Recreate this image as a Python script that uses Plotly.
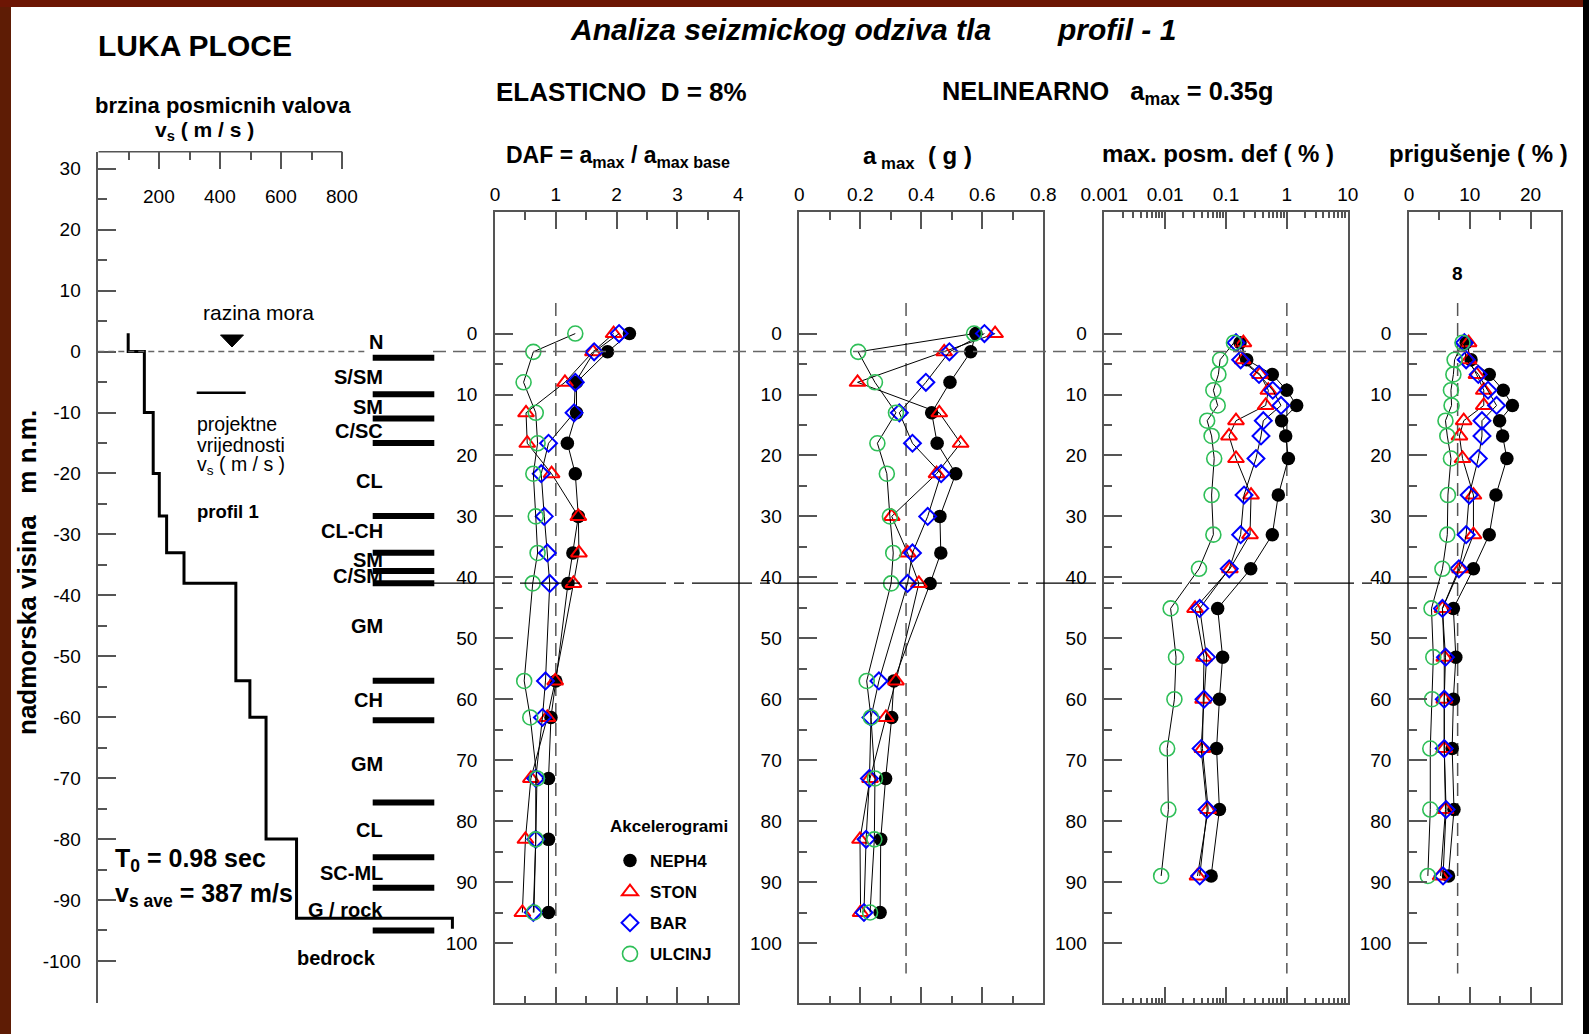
import plotly.graph_objects as go

W, H = 1589, 1034
FONT = "Liberation Sans, Arial, Helvetica, sans-serif"
AXC = "#555555"


def fx(p):
    return p / W


def fy(p):
    return 1 - p / H


# ---------------- shear wave velocity profile (elevation, m n.m.) ----------------
vs_boundary_elev = [3, 0, -10, -20, -27, -33, -38, -54, -60, -80, -93]
vs_layer = [98, 151, 180, 200, 224, 281, 451, 497, 550, 650]
vs_bedrock = 1161
bedrock_mark_bottom = -94.7
vs_axis_ticks = [200, 400, 600, 800]
elev_ticks = list(range(-100, 31, 10))

layer_bar_elev = [-1, -7, -11, -15, -27, -33, -36, -38, -54, -60.5, -74, -83, -88, -95]
soil_names = ["N", "S/SM", "SM", "C/SC", "CL", "CL-CH", "SM", "C/SM", "GM", "CH", "GM",
              "CL", "SC-ML", "G / rock"]
soil_label_elev = [1.5, -4.1, -9.1, -13.1, -21.3, -29.5, -34.2, -36.9, -45.1, -57.2,
                   -67.6, -78.5, -85.5, -91.6]
sea_level = 0
base_elev = -38

T0 = 0.98
vs_ave = 387
damping_elastic = 8
a_max_base = 0.35

# ---------------- response results (depth below top, m) ----------------
depth_acc = [0, 3, 8, 13, 18, 23, 30, 36, 41, 57, 63, 73, 83, 95]
depth_mid = [1.5, 4.3, 6.7, 9.3, 11.8, 14.3, 16.8, 20.5, 26.5, 33.0, 38.6, 45.1, 53.1,
             60.0, 68.1, 78.1, 89.0]

daf_neph4 = [2.21, 1.85, 1.34, 1.34, 1.19, 1.32, 1.37, 1.28, 1.20, 1.00, 0.92, 0.88, 0.88, 0.88]
daf_ston = [1.95, 1.61, 1.15, 0.51, 0.53, 0.93, 1.37, 1.38, 1.29, 0.99, 0.86, 0.59, 0.50, 0.45]
daf_bar = [2.04, 1.63, 1.32, 1.30, 0.88, 0.76, 0.81, 0.86, 0.90, 0.83, 0.78, 0.67, 0.67, 0.63]
daf_ulcinj = [1.32, 0.63, 0.47, 0.67, 0.70, 0.63, 0.67, 0.70, 0.62, 0.48, 0.58, 0.69, 0.67, 0.64]

amax_neph4 = [0.579, 0.562, 0.494, 0.434, 0.452, 0.513, 0.461, 0.464, 0.429, 0.310, 0.303,
              0.283, 0.267, 0.265]
amax_ston = [0.642, 0.475, 0.191, 0.459, 0.529, 0.450, 0.303, 0.355, 0.392, 0.317, 0.284,
             0.232, 0.199, 0.201]
amax_bar = [0.607, 0.492, 0.415, 0.328, 0.371, 0.465, 0.421, 0.371, 0.355, 0.261, 0.235,
            0.230, 0.219, 0.212]
amax_ulcinj = [0.573, 0.193, 0.248, 0.317, 0.256, 0.287, 0.297, 0.308, 0.301, 0.221, 0.235,
               0.248, 0.246, 0.232]

strain_neph4 = [0.170, 0.219, 0.577, 0.993, 1.45, 0.82, 0.957, 1.06, 0.724, 0.577, 0.255,
                0.073, 0.088, 0.078, 0.070, 0.078, 0.057]
strain_ston = [0.193, 0.188, 0.362, 0.496, 0.449, 0.146, 0.112, 0.146, 0.258, 0.248, 0.116,
               0.031, 0.0435, 0.042, 0.041, 0.051, 0.034]
strain_bar = [0.146, 0.174, 0.349, 0.586, 0.802, 0.410, 0.376, 0.311, 0.198, 0.174, 0.113,
              0.037, 0.048, 0.0435, 0.039, 0.049, 0.037]
strain_ulcinj = [0.135, 0.080, 0.075, 0.062, 0.073, 0.049, 0.058, 0.064, 0.058, 0.062, 0.036,
                 0.0123, 0.0151, 0.0142, 0.0108, 0.0113, 0.0086]

damp_neph4 = [9.4, 10.2, 13.2, 15.5, 17.0, 14.9, 15.4, 16.1, 14.3, 13.2, 10.6, 7.3, 7.7, 7.3,
              7.1, 7.4, 6.5]
damp_ston = [9.8, 9.8, 11.1, 12.3, 12.3, 9.0, 8.3, 8.8, 10.6, 10.6, 8.4, 5.5, 5.8, 5.8, 5.8,
             6.0, 5.2]
damp_bar = [9.1, 9.4, 11.4, 13.0, 14.4, 12.0, 12.0, 11.4, 9.9, 9.4, 8.2, 5.5, 6.0, 5.8, 5.8,
            6.1, 5.6]
damp_ulcinj = [8.8, 7.5, 7.3, 6.9, 7.0, 6.0, 6.3, 6.9, 6.4, 6.3, 5.5, 3.7, 4.0, 3.8, 3.5, 3.5,
               3.1]

records = ["NEPH4", "STON", "BAR", "ULCINJ"]
marker_style = {
    "NEPH4": dict(symbol="circle", size=13.5, color="black", line=dict(width=0)),
    "STON": dict(symbol="triangle-up-open", size=14, color="#ff0000", line=dict(width=2)),
    "BAR": dict(symbol="diamond-open", size=13, color="#0000ff", line=dict(width=2)),
    "ULCINJ": dict(symbol="circle-open", size=15, color="#2fbf58", line=dict(width=1.6)),
}

panels = [
    ("x2", "y2", depth_acc, [daf_neph4, daf_ston, daf_bar, daf_ulcinj], 1),
    ("x3", "y3", depth_acc, [amax_neph4, amax_ston, amax_bar, amax_ulcinj], a_max_base),
    ("x4", "y4", depth_mid, [strain_neph4, strain_ston, strain_bar, strain_ulcinj], 1),
    ("x5", "y5", depth_mid, [damp_neph4, damp_ston, damp_bar, damp_ulcinj], damping_elastic),
]

fig = go.Figure()

# step line of the velocity profile
vs_x, vs_y = [], []
for i, v in enumerate(vs_layer):
    vs_x += [v, v]
    vs_y += [vs_boundary_elev[i], vs_boundary_elev[i + 1]]
vs_x += [vs_bedrock, vs_bedrock]
vs_y += [vs_boundary_elev[-1], bedrock_mark_bottom]
fig.add_trace(go.Scatter(x=vs_x, y=vs_y, mode="lines", line=dict(color="black", width=3),
                         xaxis="x", yaxis="y", showlegend=False, hoverinfo="skip"))

for xa, ya, depth, series, ref in panels:
    fig.add_trace(go.Scatter(x=[ref, ref], y=[-5, 105], mode="lines",
                             line=dict(color="#555555", width=1.5, dash="13px,7px"),
                             xaxis=xa, yaxis=ya, showlegend=False, hoverinfo="skip"))
    for name, vals in zip(records, series):
        fig.add_trace(go.Scatter(x=vals, y=depth, mode="lines+markers",
                                 line=dict(color="black", width=1),
                                 marker=marker_style[name], xaxis=xa, yaxis=ya,
                                 showlegend=False, name=name))

for name in records:
    fig.add_trace(go.Scatter(x=[None], y=[None], mode="markers", marker=marker_style[name],
                             name="<b>%s</b>" % name, legendgroup=name, xaxis="x2",
                             yaxis="y2", showlegend=True))

tickfont = dict(family=FONT, size=19, color="black")


def panel_x(left, right, rng, tickvals, ticktext, minor, mtype="linear", minorlen=8):
    return dict(domain=[fx(left), fx(right)], range=rng, type=mtype, side="top",
                showline=True, linecolor=AXC, linewidth=1.5, mirror="ticks",
                ticks="inside", ticklen=17, tickwidth=1.5, tickcolor=AXC,
                tickmode="array", tickvals=tickvals, ticktext=ticktext,
                minor=dict(tickmode="array", tickvals=minor, ticks="inside",
                           ticklen=minorlen, tickwidth=1.5, tickcolor=AXC, showgrid=False),
                showgrid=False, zeroline=False, tickfont=tickfont, ticklabelstandoff=2,
                automargin=False)


def panel_y(anchor):
    return dict(domain=[fy(1003.3), fy(212.3)], range=[109.9, -19.9], anchor=anchor,
                showline=True, linecolor=AXC, linewidth=1.5, mirror=True,
                ticks="inside", ticklen=18, tickwidth=1.5, tickcolor=AXC,
                tickmode="array", tickvals=list(range(0, 101, 10)),
                minor=dict(tickmode="array", tickvals=list(range(5, 100, 10)), ticks="inside",
                           ticklen=8, tickwidth=1.5, tickcolor=AXC, showgrid=False),
                showgrid=False, zeroline=False, tickfont=tickfont, ticklabelstandoff=12,
                automargin=False)


strain_minor = [m * 10 ** e for e in range(-3, 1) for m in range(2, 10)]

x_right = 470
vs_scale = 0.305
layout = dict(
    template="none",
    width=W, height=H, margin=dict(l=0, r=0, t=0, b=0, pad=0), autosize=False,
    paper_bgcolor="white", plot_bgcolor="rgba(0,0,0,0)",
    font=dict(family=FONT, color="black"),
    xaxis=dict(domain=[fx(98.3), fx(x_right)], range=[0, (x_right - 98.3) / vs_scale],
               side="top", anchor="y", showline=False, showgrid=False, zeroline=False,
               ticks="inside", ticklen=17, tickwidth=1.5, tickcolor=AXC,
               tickmode="array", tickvals=vs_axis_ticks, showticklabels=False,
               minor=dict(tickmode="array", tickvals=[100, 300, 500, 700], ticks="inside",
                          ticklen=8, tickwidth=1.5, tickcolor=AXC, showgrid=False),
               automargin=False),
    yaxis=dict(domain=[fy(1003), fy(151.7)], range=[-106.9, 32.8], anchor="x",
               showline=True, linecolor=AXC, linewidth=1.5, ticks="inside", ticklen=18,
               tickwidth=1.5, tickcolor=AXC, tickmode="array",
               tickvals=elev_ticks, ticktext=[str(v) for v in elev_ticks],
               minor=dict(tickmode="array", tickvals=list(range(-95, 26, 10)), ticks="inside",
                          ticklen=9, tickwidth=1.5, tickcolor=AXC, showgrid=False),
               showgrid=False, zeroline=False, tickfont=tickfont, ticklabelstandoff=12,
               automargin=False),
    xaxis2=panel_x(495, 738.3, [0, 4], [0, 1, 2, 3, 4], ["0", "1", "2", "3", "4"],
                   [0.5, 1.5, 2.5, 3.5]),
    xaxis3=panel_x(799.3, 1043.3, [0, 0.8], [0, 0.2, 0.4, 0.6, 0.8],
                   ["0", "0.2", "0.4", "0.6", "0.8"], [0.1, 0.3, 0.5, 0.7]),
    xaxis4=panel_x(1104.3, 1347.7, [-3, 1], [0.001, 0.01, 0.1, 1, 10],
                   ["0.001", "0.01", "0.1", "1", "10"], strain_minor, mtype="log", minorlen=6),
    xaxis5=panel_x(1409, 1561, [0, 25], [0, 10, 20], ["0", "10", "20"], [5, 15]),
    yaxis2=panel_y("x2"), yaxis3=panel_y("x3"), yaxis4=panel_y("x4"), yaxis5=panel_y("x5"),
    showlegend=True,
    legend=dict(x=fx(610), y=fy(843), xanchor="left", yanchor="top",
                bgcolor="rgba(0,0,0,0)", borderwidth=0,
                font=dict(family=FONT, size=17, color="black"),
                itemsizing="trace", tracegroupgap=6),
)
for k in ["xaxis2", "xaxis3", "xaxis4", "xaxis5"]:
    layout[k]["anchor"] = "y" + k[-1]
fig.update_layout(**layout)

# ---------------- shapes ----------------
shapes = []
# frame around the sheet
shapes.append(dict(type="rect", xref="paper", yref="paper", x0=0, x1=fx(11), y0=0, y1=1,
                   fillcolor="#5e1c05", line=dict(width=0), layer="below"))
shapes.append(dict(type="rect", xref="paper", yref="paper", x0=0, x1=1, y0=fy(7), y1=1,
                   fillcolor="#6d1604", line=dict(width=0), layer="below"))
shapes.append(dict(type="rect", xref="paper", yref="paper", x0=fx(1583), x1=1, y0=0, y1=1,
                   fillcolor="black", line=dict(width=0), layer="below"))

# sea level and base of the soft deposit
shapes.append(dict(type="line", xref="paper", yref="y", x0=fx(98.3), x1=fx(366),
                   y0=sea_level, y1=sea_level,
                   line=dict(color="#666666", width=1.5, dash="6px,4px")))
shapes.append(dict(type="line", xref="paper", yref="y", x0=fx(433), x1=fx(1561),
                   y0=sea_level, y1=sea_level,
                   line=dict(color="#666666", width=1.5, dash="13px,7px")))
shapes.append(dict(type="line", xref="paper", yref="y", x0=fx(434), x1=fx(1561),
                   y0=base_elev, y1=base_elev,
                   line=dict(color="black", width=1.2, dash="60px,8px,10px,8px")))

# layer boundaries
for e in layer_bar_elev:
    shapes.append(dict(type="line", xref="paper", yref="y", x0=fx(372.7), x1=fx(434.3),
                       y0=e, y1=e, line=dict(color="black", width=6)))

# top axis line of the velocity plot (0 - 800 m/s)
shapes.append(dict(type="line", xref="x", yref="paper", x0=0, x1=max(vs_axis_ticks),
                   y0=fy(151.7), y1=fy(151.7), line=dict(color=AXC, width=1.5)))
# sea level marker
shapes.append(dict(type="path", xref="paper", yref="paper",
                   path="M %f,%f L %f,%f L %f,%f Z" % (fx(220.5), fy(335), fx(243.5), fy(335),
                                                    fx(232), fy(347)),
                   fillcolor="black", line=dict(color="black", width=1)))
# legend line for design values
shapes.append(dict(type="line", xref="paper", yref="paper", x0=fx(196.7), x1=fx(245.7),
                   y0=fy(392.7), y1=fy(392.7), line=dict(color="black", width=2.5)))
fig.update_layout(shapes=shapes)

# ---------------- annotations ----------------
ann = []


def note(text, x, y, size, xanchor="center", yanchor="middle", **kw):
    d = dict(text=text, x=fx(x), y=fy(y), xref="paper", yref="paper", showarrow=False,
             xanchor=xanchor, yanchor=yanchor,
             font=dict(family=FONT, size=size, color="black"))
    d.update(kw)
    ann.append(d)


note("<b><i>Analiza seizmickog odziva tla</i></b>", 780, 30, 30)
note("<b><i>profil - 1</i></b>", 1116, 30, 30)
note("<b>LUKA PLOCE</b>", 195, 45, 30)
note("<b>ELASTICNO  D = %d%%</b>" % damping_elastic, 621, 91.7, 26)
note("<b>NELINEARNO   a<sub>max</sub> = %.2fg</b>" % a_max_base, 1107, 93, 25.3)
note("<b>brzina posmicnih valova</b>", 222.5, 105.5, 22)
note("<b>v<sub>s</sub> ( m / s )</b>", 204.5, 131, 21)
note("<b>DAF = a<sub>max</sub> / a<sub>max base</sub></b>", 617.5, 156, 23)
note("<b>a<sub> max</sub>  ( g )</b>", 917.5, 158, 24)
note("<b>max. posm. def ( % )</b>", 1217.7, 153.3, 24)
note("<b>prigušenje ( % )</b>", 1478.3, 153.3, 24)
note("razina mora", 258, 312, 21)
note("projektne", 195, 424.3, 19.5, xanchor="left")
note("vrijednosti", 195, 445, 19.5, xanchor="left")
note("v<sub>s</sub> ( m / s )", 195, 466, 19.5, xanchor="left")
note("<b>profil 1</b>", 195, 511.7, 18.5, xanchor="left")
note("<b>T<sub>0</sub> = %.2f sec</b>" % T0, 113, 860, 25, xanchor="left")
note("<b>v<sub>s ave</sub> = %d m/s</b>" % vs_ave, 113, 895, 25, xanchor="left")
note("<b>nadmorska visina   m n.m.</b>", 27, 573, 26, textangle=-90)
note("<b>bedrock</b>", 336, 958.3, 20)
note("<b>Akcelerogrami</b>", 669, 826, 17)

for name, e in zip(soil_names, soil_label_elev):
    ann.append(dict(text="<b>%s</b>" % name, x=fx(385), y=e, xref="paper", yref="y",
                    showarrow=False, xanchor="right", yanchor="middle",
                    font=dict(family=FONT, size=20, color="black")))

for v in vs_axis_ticks:
    ann.append(dict(text=str(v), x=v, y=fy(196.7), xref="x", yref="paper", showarrow=False,
                    xanchor="center", yanchor="middle", font=tickfont))

ann.append(dict(text="<b>%d</b>" % damping_elastic, x=damping_elastic, y=-9.9, xref="x5",
                yref="y5", showarrow=False, xanchor="center", yanchor="middle",
                font=dict(family=FONT, size=19, color="black")))

fig.update_layout(annotations=ann)

fig.write_html("out.html")
